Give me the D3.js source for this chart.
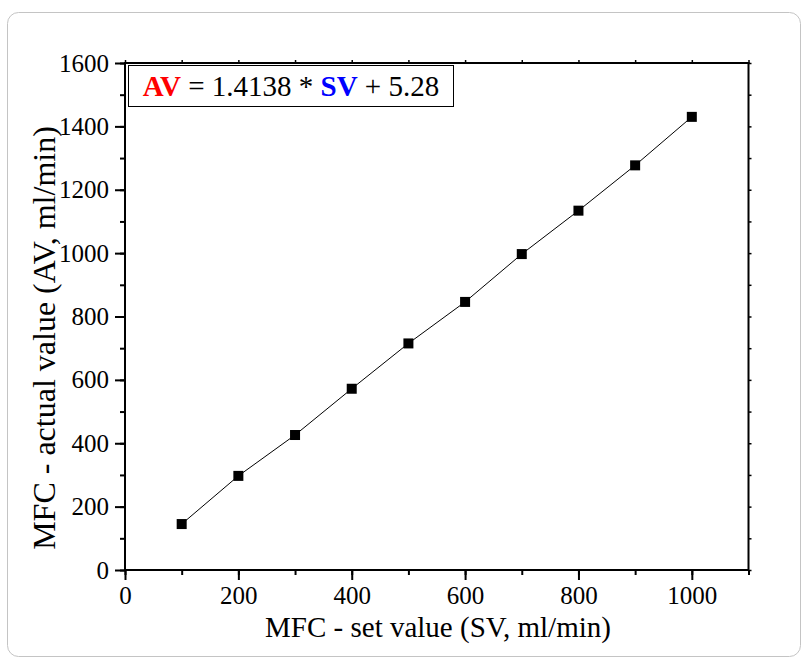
<!DOCTYPE html>
<html>
<head>
<meta charset="utf-8">
<script src="https://cdn.jsdelivr.net/npm/d3@7"></script>
<style>
  html, body { margin: 0; padding: 0; background: #fff; }
  svg { display: block; }
  text { font-family: "Liberation Serif", "Times New Roman", serif; fill: #000; }
</style>
</head>
<body>
<svg id="chart" width="803" height="660"></svg>
<script>
// MFC calibration: set value vs. measured actual value (ml/min)
const setValues = [100, 200, 300, 400, 500, 600, 700, 800, 900, 1000];
const actualValues = [145, 297, 426, 572, 715, 846, 997, 1134, 1277, 1430];
const xTickValues = [0, 200, 400, 600, 800, 1000];
const yTickValues = [0, 200, 400, 600, 800, 1000, 1200, 1400, 1600];
const xMinorTicks = d3.range(0, 1101, 100);
const yMinorTicks = d3.range(0, 1601, 100);
const xLabel = "MFC - set value (SV, ml/min)";
const yLabel = "MFC - actual value (AV, ml/min)";
const fitSlope = "1.4138";
const fitIntercept = "5.28";

const svg = d3.select("#chart");

// outer rounded frame
svg.append("rect")
  .attr("x", 7.5).attr("y", 12.5)
  .attr("width", 793).attr("height", 644)
  .attr("rx", 11).attr("ry", 11)
  .attr("fill", "#fff")
  .attr("stroke", "#c4c4c4")
  .attr("stroke-width", 1);

const plot = { left: 125, right: 748.5, top: 63, bottom: 570 };

const x = d3.scaleLinear().domain([0, 1100]).range([plot.left, plot.right]);
const y = d3.scaleLinear().domain([0, 1600]).range([plot.bottom, plot.top]);

const fontSize = 25;

// bottom axis: major ticks with labels, minor ticks
const bottom = svg.append("g").attr("transform", `translate(0,${plot.bottom})`);
bottom.append("g")
  .call(d3.axisBottom(x).tickValues(xMinorTicks).tickSize(5).tickFormat(""))
  .call(g => g.select(".domain").remove())
  .selectAll("line").attr("stroke-width", 2);
bottom.append("g")
  .call(d3.axisBottom(x).tickValues(xTickValues).tickSize(10).tickPadding(6).tickFormat(d3.format("d")))
  .call(g => g.select(".domain").remove())
  .call(g => g.selectAll("line").attr("stroke-width", 2))
  .call(g => g.selectAll("text").attr("font-size", fontSize).attr("font-family", "Liberation Serif").attr("fill", "#000"));

// left axis
const left = svg.append("g").attr("transform", `translate(${plot.left},0)`);
left.append("g")
  .call(d3.axisLeft(y).tickValues(yMinorTicks).tickSize(5).tickFormat(""))
  .call(g => g.select(".domain").remove())
  .selectAll("line").attr("stroke-width", 2);
left.append("g")
  .call(d3.axisLeft(y).tickValues(yTickValues).tickSize(10).tickPadding(6).tickFormat(d3.format("d")))
  .call(g => g.select(".domain").remove())
  .call(g => g.selectAll("line").attr("stroke-width", 2))
  .call(g => g.selectAll("text").attr("font-size", fontSize).attr("font-family", "Liberation Serif").attr("fill", "#000"));

// top and right mirror axes with short outward ticks
svg.append("g").attr("transform", `translate(0,${plot.top})`)
  .call(d3.axisTop(x).tickValues(xMinorTicks).tickSize(3).tickFormat(""))
  .call(g => g.select(".domain").remove())
  .selectAll("line").attr("stroke-width", 1.5);
svg.append("g").attr("transform", `translate(${plot.right},0)`)
  .call(d3.axisRight(y).tickValues(yMinorTicks).tickSize(3).tickFormat(""))
  .call(g => g.select(".domain").remove())
  .selectAll("line").attr("stroke-width", 1.5);

// plot frame
svg.append("rect")
  .attr("x", plot.left).attr("y", plot.top)
  .attr("width", plot.right - plot.left).attr("height", plot.bottom - plot.top)
  .attr("fill", "none").attr("stroke", "#000").attr("stroke-width", 2);

// connecting line
const pts = setValues.map((sv, i) => [sv, actualValues[i]]);
svg.append("path")
  .datum(pts)
  .attr("fill", "none")
  .attr("stroke", "#000")
  .attr("stroke-width", 1)
  .attr("d", d3.line().x(d => x(d[0])).y(d => y(d[1])));

// square markers
const ms = 10;
svg.append("g").selectAll("rect")
  .data(pts)
  .join("rect")
  .attr("x", d => x(d[0]) - ms / 2)
  .attr("y", d => y(d[1]) - ms / 2)
  .attr("width", ms).attr("height", ms)
  .attr("fill", "#000");

// axis titles
svg.append("text")
  .attr("x", 438)
  .attr("y", 637)
  .attr("text-anchor", "middle")
  .attr("font-size", 29)
  .text(xLabel);

svg.append("text")
  .attr("transform", `translate(55,338) rotate(-90)`)
  .attr("text-anchor", "middle")
  .attr("font-size", 32)
  .text(yLabel);

// fit equation box
const boxG = svg.append("g");
boxG.append("rect")
  .attr("x", 128.5).attr("y", 65.5)
  .attr("width", 325).attr("height", 41)
  .attr("fill", "#fff")
  .attr("stroke", "#000")
  .attr("stroke-width", 1);
const eq = boxG.append("text")
  .attr("x", 291)
  .attr("y", 96)
  .attr("text-anchor", "middle")
  .attr("font-size", 29);
eq.append("tspan").attr("font-weight", "bold").attr("fill", "#ff0000").text("AV");
eq.append("tspan").text(` = ${fitSlope} * `);
eq.append("tspan").attr("font-weight", "bold").attr("fill", "#0000ff").text("SV");
eq.append("tspan").text(` + ${fitIntercept}`);
</script>
</body>
</html>
